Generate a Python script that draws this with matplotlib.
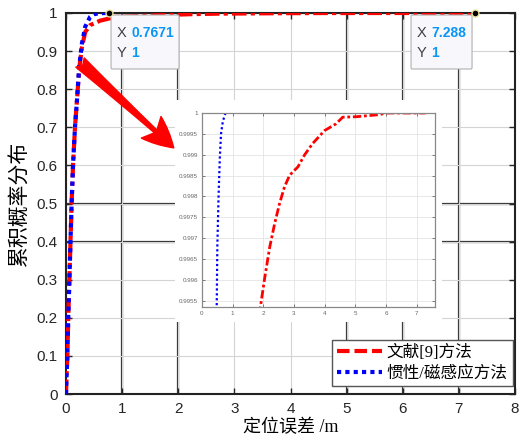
import numpy as np
import matplotlib
matplotlib.use('Agg')
import matplotlib.pyplot as plt
from matplotlib.lines import Line2D
from matplotlib.patches import Rectangle, FancyBboxPatch

# CDF of positioning error
red_x = [0, 0.01, 0.025, 0.04, 0.06, 0.08, 0.1, 0.125, 0.16, 0.195, 0.236, 0.284, 0.342, 0.43, 0.61, 0.9,
         1.905, 2.05, 2.21, 2.37, 2.53, 2.69, 2.86, 3.13, 3.34, 3.61, 4.0, 4.37, 4.59, 5.02, 5.78, 6.0, 7.288]
red_y = [0, 0.05, 0.1, 0.2, 0.3, 0.4, 0.5, 0.6, 0.7, 0.77, 0.855, 0.91, 0.95, 0.968, 0.98, 0.99,
         0.99535, 0.99607, 0.99679, 0.99735, 0.99783, 0.99823, 0.99851, 0.99871, 0.99899, 0.99927,
         0.99958, 0.99974, 0.9999, 0.99991, 0.99996, 1.0, 1.0]
blue_x = [0, 0.01, 0.025, 0.04, 0.06, 0.08, 0.1, 0.125, 0.16, 0.195, 0.236, 0.284, 0.342, 0.43,
          0.48, 0.5, 0.54, 0.58, 0.62, 0.68, 0.7671]
blue_y = [0, 0.05, 0.1, 0.2, 0.3, 0.4, 0.5, 0.6, 0.7, 0.77, 0.86, 0.92, 0.964, 0.99,
          0.99535, 0.9968, 0.998, 0.9989, 0.9995, 0.9998, 1.0]
names = ['文献[9]方法', '惯性/磁感应方法']
tips = [(0.7671, 1), (7.288, 1)]

cjk = ['Liberation Serif', 'Noto Sans CJK SC']
plt.rcParams['font.family'] = ['Liberation Sans', 'DejaVu Sans']

fig = plt.figure(figsize=(5.19, 4.46), dpi=100)
ax = fig.add_axes([66/519, 52/446, 449/519, 381/446])

red_ls = (0, (3.5, 1, 1, 1))
ax.plot(red_x, red_y, color='red', lw=3, ls=red_ls, zorder=3)
ax.plot(blue_x, blue_y, color='blue', lw=3, ls=(0, (1, 1)), zorder=4)

ax.set_xlim(0, 8)
ax.set_ylim(0, 1)
ax.set_xticks(range(9))
ax.set_yticks(np.arange(0, 1.01, 0.1))
ax.set_yticklabels(['0', '0.1', '0.2', '0.3', '0.4', '0.5', '0.6', '0.7', '0.8', '0.9', '1'])
ax.tick_params(direction='in', length=4, width=1, labelsize=11, colors='#262626',
               top=True, right=True, pad=6)
ax.grid(True, color='#d4d4d4', lw=0.8)
for v in [1, 2, 5, 6, 7]:
    ax.axvline(v, color='#333333', lw=1.6, zorder=1)
for v in [0.4, 0.5]:
    ax.axhline(v, color='#333333', lw=1.6, zorder=1)
for s in ax.spines.values():
    s.set_linewidth(1.5)
    s.set_color('#222222')

ax.set_xlabel('定位误差 /m', fontsize=13, family=cjk, labelpad=2)
ax.set_ylabel('累积概率分布', fontsize=15, family=cjk, labelpad=4)

# data tips
inv = ax.transData.inverted()
for (tx, ty), dx, w in zip(tips, [2, -64], [68, 61]):
    ax.plot([tx], [ty], 'o', color='black', mec='#e8e0a0', ms=5, zorder=6, clip_on=False)
    px, py = ax.transData.transform((tx, ty))
    x0, y0 = inv.transform((px + dx, py - 56))
    x1, y1 = inv.transform((px + dx + w, py - 2))
    box = FancyBboxPatch((x0, y0), x1 - x0, y1 - y0, boxstyle='round,pad=0,rounding_size=0.02',
                         fc='#f8f8fc', ec='#b0b0b0', lw=0.8, zorder=5, mutation_aspect=0.2)
    ax.add_patch(box)
    lx, _ = inv.transform((px + dx + 6, 0))
    vx, _ = inv.transform((px + dx + 20, 0))
    _, r1 = inv.transform((0, py - 20))
    _, r2 = inv.transform((0, py - 40))
    ax.text(lx, r1, 'X', fontsize=10.5, color='#404040', va='center', zorder=7)
    ax.text(vx, r1, '%g' % tx, fontsize=10, color='#0a96f5', va='center', zorder=7, weight='bold')
    ax.text(lx, r2, 'Y', fontsize=10.5, color='#404040', va='center', zorder=7)
    ax.text(vx, r2, '%g' % ty, fontsize=10, color='#0a96f5', va='center', zorder=7, weight='bold')

# arrow to zoomed view
ax.annotate('', xy=(1.92, 0.646), xytext=(0.25, 0.87),
            arrowprops=dict(arrowstyle='fancy,head_length=2.2,head_width=2.1,tail_width=0.9',
                            color='red', mutation_scale=10, shrinkA=0, shrinkB=0), zorder=6)

handles = [Line2D([], [], color='red', lw=3, ls=(0, (3, 1.2))),
           Line2D([], [], color='blue', lw=3, ls=(0, (1, 1)))]
leg = ax.legend(handles, names, loc='lower right', bbox_to_anchor=(0.995, 0.02),
                prop={'family': cjk, 'size': 12}, fancybox=False, framealpha=1,
                edgecolor='#555555', handlelength=2.7, handletextpad=0.3,
                borderpad=0.3, labelspacing=0.25, borderaxespad=0)
leg.get_frame().set_linewidth(1.0)
leg.set_zorder(8)

# inset
fig.patches.append(Rectangle((175/519, 124/446), 267/519, 222/446, transform=fig.transFigure,
                             fc='white', ec='none', zorder=2))
ins = fig.add_axes([202/519, 139/446, 233/519, 194/446], zorder=3)
ins.plot(red_x, red_y, color='red', lw=2, ls=(0, (3, 1, 1, 1)))
ins.plot(blue_x, blue_y, color='blue', lw=1.6, ls=(0, (1, 1.2)))
ins.set_xlim(0, 7.6)
ins.set_ylim(0.99535, 1.0)
ins.set_xticks(range(8))
ins.set_yticks(np.arange(0.9955, 1.00001, 0.0005))
ins.set_yticklabels(['0.9955', '0.996', '0.9965', '0.997', '0.9975', '0.998', '0.9985',
                     '0.999', '0.9995', '1'])
ins.tick_params(direction='in', length=2, width=0.6, labelsize=4.5, colors='#666666',
                top=True, right=True, pad=3)
ins.grid(True, color='#e4e4e4', lw=0.6)
for s in ins.spines.values():
    s.set_linewidth(0.9)
    s.set_color('#888888')

fig.savefig('out.png', dpi=100)
